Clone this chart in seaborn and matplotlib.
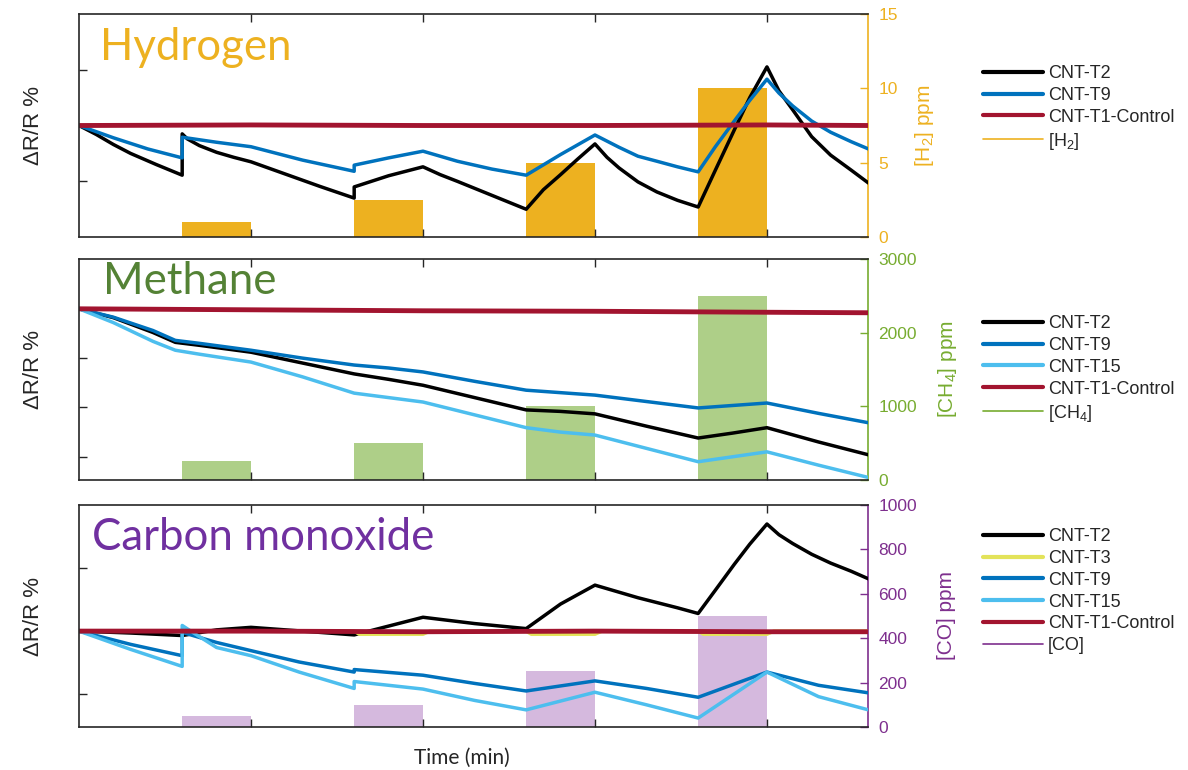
import numpy as np
import matplotlib.pyplot as plt
import seaborn as sns
from matplotlib.lines import Line2D

# ---- gas pulses (time in arbitrary units, one tick = one cycle) ----
gas_on = [0.6, 1.6, 2.6, 3.6]
gas_off = [1.0, 2.0, 3.0, 4.0]
h2_ppm = [1, 2.5, 5, 10]
ch4_ppm = [250, 500, 1000, 2500]
co_ppm = [50, 100, 250, 500]
t_end = 4.59

# ---- Hydrogen panel ----
h2_t2_x = [0, 0.1, 0.2, 0.3, 0.45, 0.6, 0.6, 0.63, 0.7, 0.8, 0.9, 1.0, 1.2, 1.4, 1.6, 1.6, 1.8, 2.0,
           2.1, 2.2, 2.4, 2.6, 2.7, 2.8, 2.9, 3.0, 3.07, 3.14, 3.25, 3.36, 3.48, 3.6, 3.7, 3.81, 3.9, 4.0,
           4.07, 4.15, 4.26, 4.37, 4.49, 4.59]
h2_t2_y = [2.0, 1.84, 1.66, 1.50, 1.30, 1.11, 1.85, 1.76, 1.64, 1.52, 1.43, 1.35, 1.13, 0.91, 0.70, 0.90, 1.10, 1.26,
           1.12, 1.00, 0.75, 0.50, 0.85, 1.12, 1.40, 1.67, 1.43, 1.24, 0.99, 0.81, 0.66, 0.54, 1.20, 1.92, 2.50, 3.05,
           2.62, 2.28, 1.80, 1.47, 1.20, 0.97]
h2_t9_x = [0, 0.2, 0.4, 0.6, 0.6, 0.8, 1.0, 1.3, 1.6, 1.6, 1.8, 2.0, 2.2, 2.4, 2.6, 2.8, 3.0,
           3.14, 3.25, 3.36, 3.48, 3.6, 3.7, 3.81, 3.9, 4.0, 4.07, 4.15, 4.26, 4.37, 4.49, 4.59]
h2_t9_y = [2.0, 1.78, 1.58, 1.42, 1.79, 1.70, 1.62, 1.38, 1.18, 1.29, 1.42, 1.54, 1.36, 1.22, 1.11, 1.48, 1.83,
           1.61, 1.45, 1.36, 1.26, 1.17, 1.62, 2.08, 2.45, 2.83, 2.58, 2.35, 2.08, 1.88, 1.71, 1.58]
h2_ctrl_x = [0, 1.0, 2.0, 3.0, 4.0, 4.59]
h2_ctrl_y = [2.0, 2.01, 2.0, 2.0, 2.01, 2.0]

# ---- Methane panel ----
ch4_x = [0, 0.2, 0.43, 0.56, 0.7, 1.0, 1.3, 1.6, 1.8, 2.0, 2.3, 2.6, 2.8, 3.0, 3.3, 3.6, 3.8, 4.0, 4.3, 4.59]
ch4_t2_y = [3.0, 2.82, 2.52, 2.32, 2.26, 2.12, 1.90, 1.68, 1.57, 1.45, 1.20, 0.95, 0.92, 0.87, 0.62, 0.38,
            0.48, 0.59, 0.30, 0.04]
ch4_t9_y = [3.0, 2.83, 2.56, 2.36, 2.30, 2.16, 2.00, 1.86, 1.80, 1.72, 1.53, 1.35, 1.30, 1.25, 1.12, 0.99,
            1.04, 1.09, 0.88, 0.69]
ch4_t15_y = [3.0, 2.72, 2.34, 2.16, 2.08, 1.92, 1.62, 1.29, 1.20, 1.11, 0.85, 0.59, 0.50, 0.44, 0.17, -0.10,
             0.00, 0.10, -0.17, -0.42]
ch4_ctrl_x = [0, 1.0, 2.0, 3.0, 4.0, 4.59]
ch4_ctrl_y = [3.0, 2.98, 2.96, 2.95, 2.93, 2.92]

# ---- Carbon monoxide panel ----
co_t2_x = [0, 0.3, 0.6, 0.8, 1.0, 1.3, 1.6, 1.8, 2.0, 2.3, 2.6, 2.8, 3.0, 3.25, 3.48, 3.6, 3.7, 3.81, 3.9,
           4.0, 4.07, 4.15, 4.26, 4.37, 4.49, 4.59]
co_t2_y = [1.0, 0.97, 0.93, 1.02, 1.06, 1.00, 0.94, 1.08, 1.22, 1.12, 1.04, 1.43, 1.73, 1.53, 1.37, 1.28,
           1.65, 2.06, 2.38, 2.70, 2.53, 2.39, 2.22, 2.08, 1.95, 1.83]
co_t3_x = [0, 1.6, 1.63, 2.0, 2.04, 2.6, 2.63, 3.0, 3.04, 3.6, 3.63, 4.0, 4.04, 4.59]
co_t3_y = [1.0, 1.0, 0.95, 0.95, 1.0, 1.0, 0.95, 0.95, 1.0, 1.0, 0.95, 0.95, 1.0, 1.0]
co_t9_x = [0, 0.3, 0.6, 0.6, 0.8, 1.0, 1.28, 1.6, 1.6, 2.0, 2.3, 2.6, 3.0, 3.3, 3.6, 4.0, 4.3, 4.59]
co_t9_y = [1.0, 0.79, 0.61, 0.98, 0.82, 0.69, 0.51, 0.35, 0.39, 0.30, 0.17, 0.05, 0.21, 0.09, -0.05,
           0.35, 0.14, 0.02]
co_t15_x = [0, 0.3, 0.6, 0.6, 0.65, 0.8, 1.0, 1.28, 1.6, 1.6, 2.0, 2.3, 2.6, 3.0, 3.3, 3.6, 4.0, 4.3, 4.59]
co_t15_y = [1.0, 0.71, 0.44, 1.09, 1.00, 0.74, 0.61, 0.35, 0.09, 0.20, 0.08, -0.10, -0.25, 0.03, -0.17,
            -0.38, 0.35, -0.04, -0.25]
co_ctrl_x = [0, 1.0, 2.0, 3.0, 4.0, 4.59]
co_ctrl_y = [1.0, 1.0, 0.99, 1.0, 0.99, 0.99]

# ---- colours ----
C_T2, C_T3, C_T9, C_T15, C_CTRL = "#000000", "#E3E35A", "#0072BD", "#4DBEEE", "#A2142F"

sns.set_style("ticks")
plt.rcParams["font.family"] = ["Liberation Sans", "DejaVu Sans"]
plt.rcParams["mathtext.default"] = "regular"

fig = plt.figure(figsize=(11.88, 7.7), dpi=100)

panels = [
    dict(box=[0.0665, 0.692, 0.6645, 0.290], ylim=(0, 4), yticks=[1, 2, 3],
         series=[("CNT-T2", h2_t2_x, h2_t2_y, C_T2, 2.5),
                 ("CNT-T9", h2_t9_x, h2_t9_y, C_T9, 2.5),
                 ("CNT-T1-Control", h2_ctrl_x, h2_ctrl_y, C_CTRL, 3.5)],
         bars=h2_ppm, rlim=(0, 15), rticks=[0, 5, 10, 15], rcol="#EDB120", barcol="#EDB120",
         rlabel="[H$_2$] ppm", leg="[H$_2$]", title="Hydrogen", tcol="#EDB120",
         tpos=(0.027, 0.792), rlab_x=1.056, leg_y=1 - 65 / 770),
    dict(box=[0.0665, 0.377, 0.6645, 0.286], ylim=(-0.465, 4), yticks=[0, 1, 2, 3],
         series=[("CNT-T2", ch4_x, ch4_t2_y, C_T2, 2.5),
                 ("CNT-T9", ch4_x, ch4_t9_y, C_T9, 2.5),
                 ("CNT-T15", ch4_x, ch4_t15_y, C_T15, 2.5),
                 ("CNT-T1-Control", ch4_ctrl_x, ch4_ctrl_y, C_CTRL, 3.5)],
         bars=ch4_ppm, rlim=(0, 3000), rticks=[0, 1000, 2000, 3000], rcol="#77AC30", barcol="#AECF88",
         rlabel="[CH$_4$] ppm", leg="[CH$_4$]", title="Methane", tcol="#548235",
         tpos=(0.030, 0.845), rlab_x=1.085, leg_y=1 - 315 / 770),
    dict(box=[0.0665, 0.056, 0.6645, 0.288], ylim=(-0.52, 3), yticks=[0, 1, 2],
         series=[("CNT-T2", co_t2_x, co_t2_y, C_T2, 2.5),
                 ("CNT-T3", co_t3_x, co_t3_y, C_T3, 2.5),
                 ("CNT-T9", co_t9_x, co_t9_y, C_T9, 2.5),
                 ("CNT-T15", co_t15_x, co_t15_y, C_T15, 2.5),
                 ("CNT-T1-Control", co_ctrl_x, co_ctrl_y, C_CTRL, 3.5)],
         bars=co_ppm, rlim=(0, 1000), rticks=list(range(0, 1001, 200)), rcol="#7E2F8E", barcol="#D5B9DE",
         rlabel="[CO] ppm", leg="[CO]", title="Carbon monoxide", tcol="#7030A0",
         tpos=(0.016, 0.797), rlab_x=1.087, leg_y=1 - 528 / 770),
]

bar_w = np.array(gas_off) - np.array(gas_on)

for p in panels:
    ax = fig.add_axes(p["box"])
    axr = ax.twinx()

    # concentration bars on the right axis
    axr.bar(gas_on, p["bars"], width=bar_w, align="edge", color=p["barcol"], lw=0)
    axr.set_ylim(*p["rlim"])
    axr.set_yticks(p["rticks"])
    axr.tick_params(axis="y", direction="in", colors=p["rcol"], length=6, width=1,
                    labelsize=12.5, pad=7)
    axr.set_ylabel(p["rlabel"], color=p["rcol"], fontsize=15)
    axr.yaxis.set_label_coords(p["rlab_x"], 0.5)
    for s in ["left", "top", "bottom"]:
        axr.spines[s].set_visible(False)
    axr.spines["right"].set_color(p["rcol"])
    axr.spines["right"].set_linewidth(1.2)

    # sensor responses on the left axis, drawn above the bars
    ax.set_zorder(axr.get_zorder() + 1)
    ax.patch.set_visible(False)
    handles = []
    for name, x, y, col, lw in p["series"]:
        sns.lineplot(x=x, y=y, ax=ax, color=col, lw=lw, estimator=None, sort=False)
        handles.append(Line2D([], [], color=col, lw=3))
    handles.append(Line2D([], [], color=p["rcol"], lw=1.2))
    labels = [s[0] for s in p["series"]] + [p["leg"]]

    ax.set_xlim(0, t_end)
    ax.set_ylim(*p["ylim"])
    ax.set_xticks([1, 2, 3, 4])
    ax.set_yticks(p["yticks"])
    ax.tick_params(direction="in", top=True, bottom=True, left=True, right=False,
                   labelleft=False, labelbottom=False, length=6, width=1, color="#262626")
    for s in ["left", "top", "bottom"]:
        ax.spines[s].set_color("#262626")
        ax.spines[s].set_linewidth(1.2)
    ax.spines["right"].set_visible(False)

    ax.set_ylabel("\u0394R/R %", fontsize=16, color="#262626")
    ax.yaxis.set_label_coords(-0.044, 0.5)

    ax.text(p["tpos"][0], p["tpos"][1], p["title"], transform=ax.transAxes,
            fontsize=31.5, color=p["tcol"], family="Lato", va="baseline", ha="left")

    ax.legend(handles, labels, loc="upper left", bbox_to_anchor=(983 / 1188, p["leg_y"]),
              bbox_transform=fig.transFigure, frameon=False, fontsize=13,
              handlelength=3.3, handletextpad=0.3, labelspacing=0.27,
              borderpad=0, borderaxespad=0)

fig.text(462 / 1188, 1 - 758 / 770, "Time (min)", ha="center", va="center",
         fontsize=15, family="Lato", color="#262626")

fig.savefig("out.png", dpi=100)
